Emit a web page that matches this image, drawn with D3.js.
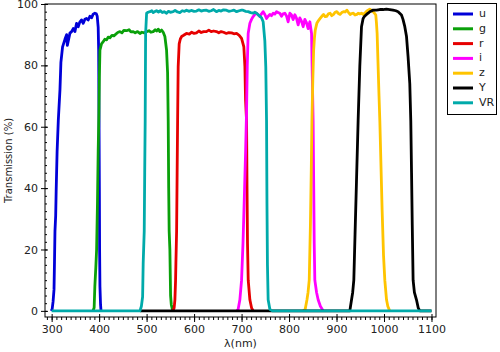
<!DOCTYPE html>
<html>
<head>
<meta charset="utf-8">
<script src="https://cdn.jsdelivr.net/npm/d3@7"></script>
<style>
body { margin: 0; background: #fff; }
text { font-family: "DejaVu Sans", sans-serif; }
</style>
</head>
<body>
<svg id="chart" width="500" height="352"></svg>
<script>
// filter transmission curves [wavelength nm, transmission %]
var u = [[299,0],[301,0.5],[303,3],[305,7],[306,16],[307,26],[308.5,31],[309.5,39],[311.5,52],[314,62],[317.5,72],[319.5,81],[323,86],[328,88.5],[331.5,90],[333,86.5],[338.5,90.5],[342,91],[345.5,92],[349,91],[352.5,93.7],[356,92.6],[359,94],[363,94.8],[366.5,93.7],[370,95],[373.5,95.3],[377,94.8],[380.5,96],[384,95.5],[387.5,96.7],[391,97],[394,96.8],[396,96],[398,92.5],[399,85],[399.8,62],[400.5,40],[401,20],[401.7,8],[403,2],[404,0]];
var g = [[387,0],[389.5,1],[391,8],[393,14],[394.7,20],[396.5,35],[398,52],[399.6,65],[400.5,76],[401.7,85],[405,87],[408.6,87.7],[412,88.5],[415.8,88.3],[419,89.2],[422.7,89],[427,89.8],[431,89.6],[436.8,90.4],[440,90.8],[443.8,91],[448,90.6],[452,91.4],[457.9,91.3],[463,91.6],[467,90.9],[471.8,91],[476,90.6],[481,91],[485.9,90.4],[490,90.8],[495,90.6],[500,91],[505,91.3],[509,90.8],[513.9,91],[518,91.6],[521,91.2],[524.4,91.8],[528,91],[531.6,91.5],[535,90.8],[538.5,89.4],[542,85],[544.2,77.5],[545.5,62],[546.5,40],[547.5,26],[549,20],[550.5,5],[552,2],[555,0]];
var r = [[555,0],[558,1],[559.6,3.6],[561,10],[561.7,15.6],[563.2,26],[564.3,45],[565.3,62],[566.5,79.6],[568.6,87],[571,88.6],[573.7,89.4],[578,89.8],[584,90.4],[590,90.2],[595,90.8],[600,90.4],[605,90.6],[610,91.2],[615,90.7],[620,91],[626,91],[631,91.5],[636,91],[641,91.2],[647,91],[652,90.6],[657,91],[662,90.8],[668,90.4],[673,90.7],[679,90.6],[684,90.3],[689.5,90.4],[695,89.8],[700,88.8],[704.8,86],[707,79.6],[708.4,68.7],[710.5,62],[711.5,40],[712.5,22],[714,10],[717.5,3.6],[721,1],[724.5,0]];
var i_band = [[690,0],[692.8,0.5],[696.4,3.6],[700,10],[703,22],[706,38],[708.5,52],[710.5,65],[712,80],[713.9,90.4],[717.5,93.7],[721,95],[724.4,95.9],[728,96.6],[731.6,97],[735,96.5],[738.5,95.9],[742,96.8],[745.5,97.5],[749,96.6],[752.6,95.3],[756,96],[759.6,96.6],[763,96.2],[766.5,97],[770,96.7],[773.7,97.5],[777,97.2],[780.6,97],[784.2,96],[787.5,96.8],[791.2,97],[795,96],[798.1,94.2],[801.7,97],[805,96.5],[808.6,94.9],[812.2,96.5],[815.5,95.5],[819.2,93.2],[822.7,95.5],[826,94.5],[829.7,92.6],[833.3,95],[836.5,94],[840.2,92],[843.8,94.2],[847.4,90.4],[848.6,79.6],[850.7,62],[852,40],[853,22],[854.3,10],[858,6],[861.3,3.6],[866,1.5],[872,0]];
var z = [[830,0],[834,0.5],[837.7,3.6],[840,6],[842.5,10],[845,28],[847,48],[848.2,62],[850,75],[851.8,85],[853.5,89],[855.2,91.5],[858.5,93.7],[862,94.6],[865.5,95.3],[869,96],[872.6,96.6],[876,95.9],[879.6,96],[883,96.8],[886.5,97],[890,96.2],[893.7,96.6],[897,97.3],[900.6,97.5],[904,96.9],[907.6,96.6],[911,97.2],[914.7,97.5],[918,97.4],[921.7,98],[925,97.3],[928.6,96.6],[932,96.9],[935.4,97],[939,96.4],[942.7,96.6],[945.5,97],[949,96.8],[952.6,97],[956,96.6],[959.6,97],[963,97.6],[966.5,98],[970,98.3],[973.7,98],[977,97.5],[980,97],[982.7,96.4],[984,94],[985.5,90.4],[987.6,79.6],[989.5,70],[991.2,62],[993.5,48],[996,33],[999,18],[1001.7,10],[1005.3,3.6],[1008,1.5],[1012,0]];
var Y = [[486,0],[928,0],[931.6,3.6],[934,6],[936.4,10],[939,25],[942,42],[945.5,62],[949,79.6],[952.6,92.6],[956,95.3],[959,96],[963.2,96.6],[966.5,97],[970,97.5],[977,98],[984,98],[991,98.2],[998,98.2],[1005,98.3],[1012,98.2],[1019,98],[1025,97.8],[1029.7,97.5],[1033,97],[1036.8,96.4],[1040,95],[1043.8,92.6],[1047.4,89.4],[1050.7,82.8],[1054.3,74],[1056.4,62],[1058,45],[1059.5,28],[1061.3,10],[1064,6],[1068.4,3.6],[1072,1],[1075.4,0],[1100,0]];
var VR = [[300,0],[486,0],[489,1.5],[491.6,4.6],[492.8,15.6],[495,26],[496,45],[497,62],[497.9,90.4],[500,97],[503,97.3],[507,97.5],[511,97.8],[514,97.2],[518,97.6],[521,97.8],[525,97.4],[529,97.8],[533,97.2],[537,97.5],[542,97],[546,97.6],[550,97.3],[556,97.5],[560,97.9],[565,97.4],[570,97.2],[575,97.8],[580,97.6],[584,98],[589,97.6],[594,97.9],[600,97.6],[605,97.7],[610,98.1],[615,97.7],[620,97.9],[626,98],[631,97.6],[636,97.8],[641,98.2],[647,97.5],[652,97.9],[657,97.7],[662,98.1],[668,98],[673,97.6],[679,97.8],[684,98],[689.5,97.5],[695,97.8],[700,98],[703,98],[708,97.6],[714,97.5],[719,97.2],[724.4,97],[728,97.3],[731.6,97],[735,96.5],[738.5,96],[742,95.5],[745.5,94.2],[749,88],[751,79.6],[752.6,62],[753.5,35],[754.5,15],[756,3.6],[759.6,0.5],[765,0],[1100,0]];

var names = ["u", "g", "r", "i", "z", "Y", "VR"];
var colors = ["#0000d8", "#0aa00a", "#e60000", "#ff00ff", "#ffc400", "#000000", "#00aaaa"];
var curves = [u, g, r, i_band, z, Y, VR];
var xTicks = [300, 400, 500, 600, 700, 800, 900, 1000, 1100];
var yTicks = [0, 20, 40, 60, 80, 100];

var pLeft = 45, pTop = 4, pRight = 436, pBottom = 317;
var svg = d3.select("#chart");

var x = d3.scaleLinear().domain([286, 1109.5]).range([pLeft, pRight]);
var y = d3.scaleLinear().domain([-2, 100]).range([pBottom, pTop]);

svg.append("clipPath").attr("id", "clip")
    .append("rect").attr("x", pLeft).attr("y", pTop).attr("width", pRight - pLeft).attr("height", pBottom - pTop);

var line = d3.line().x(function (d) { return x(d[0]); }).y(function (d) { return y(d[1]); });

var plot = svg.append("g").attr("clip-path", "url(#clip)");
plot.selectAll(".curve")
    .data(curves)
    .enter().append("path")
    .attr("class", "curve")
    .attr("d", line)
    .attr("fill", "none")
    .attr("stroke", function (d, k) { return colors[k]; })
    .attr("stroke-width", 2.8)
    .attr("stroke-linejoin", "round");

// frame
svg.append("rect")
    .attr("x", pLeft).attr("y", pTop).attr("width", pRight - pLeft).attr("height", pBottom - pTop)
    .attr("fill", "none").attr("stroke", "#000").attr("stroke-width", 1);

// x axis: labels + outward major, inward major, outward minor
var xMinor = d3.range(290, 1110, 10);
svg.append("g").attr("transform", "translate(0," + pBottom + ")")
    .call(d3.axisBottom(x).tickValues(xTicks).tickSize(5).tickPadding(3).tickFormat(d3.format("d")));
svg.append("g").attr("transform", "translate(0," + pBottom + ")")
    .call(d3.axisTop(x).tickValues(xTicks).tickSize(3).tickFormat(""));
svg.append("g").attr("transform", "translate(0," + pBottom + ")")
    .call(d3.axisBottom(x).tickValues(xMinor).tickSize(3).tickFormat(""));

var yMinor = d3.range(0, 100.1, 2.5);
svg.append("g").attr("transform", "translate(" + pLeft + ",0)")
    .call(d3.axisLeft(y).tickValues(yTicks).tickSize(4).tickPadding(3).tickFormat(d3.format("d")));
svg.append("g").attr("transform", "translate(" + pLeft + ",0)")
    .call(d3.axisRight(y).tickValues(yMinor).tickSize(2).tickFormat(""));
svg.append("g").attr("transform", "translate(" + pLeft + ",0)")
    .call(d3.axisRight(y).tickValues(yTicks).tickSize(3).tickFormat(""));

svg.selectAll(".domain").remove();
svg.selectAll(".tick line").attr("stroke", "#000");
svg.selectAll(".tick text").attr("font-size", 11).attr("fill", "#222")
    .attr("font-family", "DejaVu Sans, sans-serif");

svg.append("text")
    .attr("transform", "translate(9," + ((pTop + pBottom) / 2) + ") rotate(-90)")
    .attr("text-anchor", "middle").attr("dominant-baseline", "middle")
    .attr("font-size", 10).attr("fill", "#222")
    .text("Transmission (%)");

svg.append("text")
    .attr("x", (pLeft + pRight) / 2).attr("y", 347)
    .attr("text-anchor", "middle")
    .attr("font-size", 11).attr("fill", "#222")
    .text("λ(nm)");

// legend
var lg = svg.append("g");
lg.append("rect").attr("x", 447.5).attr("y", 3.5).attr("width", 49).attr("height", 111)
    .attr("fill", "#fff").attr("stroke", "#000").attr("stroke-width", 1);
var item = lg.selectAll(".item").data(names).enter().append("g")
    .attr("transform", function (d, k) { return "translate(0," + (14 + k * 14.8) + ")"; });
item.append("line").attr("x1", 453).attr("x2", 473).attr("y1", 0).attr("y2", 0)
    .attr("stroke", function (d, k) { return colors[k]; }).attr("stroke-width", 3);
item.append("text").attr("x", 479).attr("y", 0).attr("dominant-baseline", "middle")
    .attr("font-size", 11).attr("fill", "#222")
    .text(function (d) { return d; });
</script>
</body>
</html>
